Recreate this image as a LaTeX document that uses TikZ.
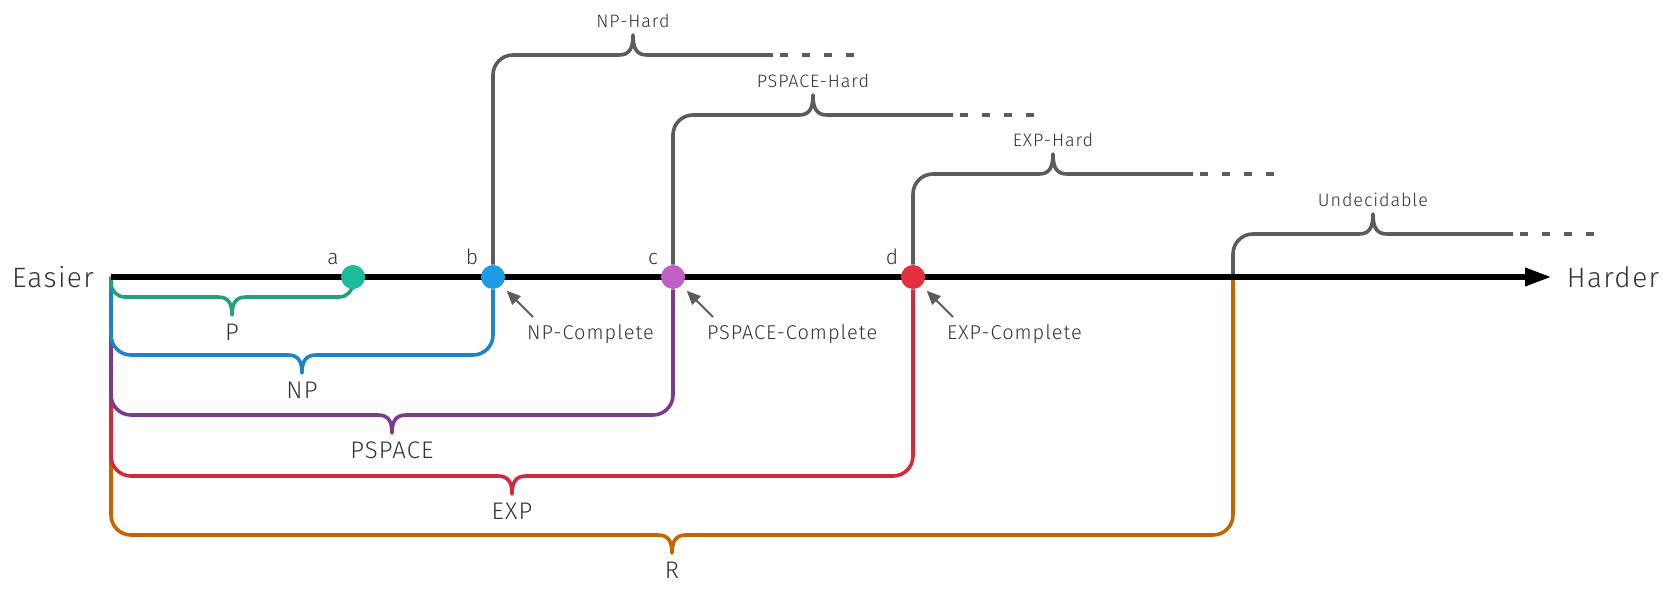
\documentclass[tikz,border=0pt]{standalone}
\usepackage{fontspec}
\setmainfont{Fira Sans}[UprightFont=* Light, LetterSpace=5]
\usetikzlibrary{arrows.meta, calc, positioning}
\pgfdeclarelayer{bg}
\pgfsetlayers{bg,main}
\definecolor{txtgray}{HTML}{333333}
\definecolor{hardgray}{HTML}{5C5C5C}
\definecolor{pdot}{HTML}{1ABC9C}
\definecolor{pline}{HTML}{22A080}
\definecolor{npdot}{HTML}{1E9BE2}
\definecolor{npline}{HTML}{1D84C6}
\definecolor{psdot}{HTML}{C15FC7}
\definecolor{psline}{HTML}{7D3B8C}
\definecolor{expdot}{HTML}{E2303E}
\definecolor{expline}{HTML}{D12B3B}
\definecolor{rline}{HTML}{C46500}

\begin{document}
\begin{tikzpicture}[x=0.5pt, y=-0.5pt,
    dot/.style={circle, fill=#1, minimum size=12pt, inner sep=0pt},
    ptlbl/.style={font=\fontsize{10.5}{12}\selectfont, text=txtgray, anchor=base},
    side/.style={font=\fontsize{14}{16}\selectfont, text=txtgray, anchor=base},
    cls/.style={draw=#1, line width=1.8pt, rounded corners=10pt, line join=round},
    cusp/.style={draw=#1, line width=1.8pt, line join=round},
    clslbl/.style={font=\fontsize{12}{14}\selectfont, text=txtgray, anchor=base},
    hard/.style={draw=hardgray, line width=1.8pt, rounded corners=10pt, line join=round},
    harddash/.style={draw=hardgray, line width=1.8pt, dash pattern=on 4pt off 7pt},
    hardlbl/.style={font=\fontsize{9}{10}\selectfont, text=txtgray, anchor=base},
    cpl/.style={draw=hardgray, line width=1pt, -{Triangle[length=7pt,width=6pt]}, shorten >=3.5pt},
    cpllbl/.style={font=\fontsize{10}{12}\selectfont, text=txtgray, anchor=base west}]

\useasboundingbox (0,0) rectangle (1676,592);

% axis ends
\coordinate (o) at (111,277);
\coordinate (tip) at (1552,277);
\coordinate (u) at (1233,277);

\node[side] (easier) at (53,288) {Easier};
\node[side] (harder) at (1613,288) {Harder};

% points on the axis
\node[dot=pdot] (a) at (353,277) {};
\node[dot=npdot] (b) at (493,277) {};
\node[dot=psdot] (c) at (673,277) {};
\node[dot=expdot] (d) at (913,277) {};
\node[ptlbl] (la) at (333,265) {a};
\node[ptlbl] (lb) at (472,265) {b};
\node[ptlbl] (lc) at (653,265) {c};
\node[ptlbl] (ld) at (892,265) {d};

\begin{pgfonlayer}{bg}
% classes below the axis
\draw[cls=rline] (o) |- (658,535);
\draw[cusp=rline] (658,535) .. controls (668,535) and (672,541) .. (672,553)
    .. controls (672,541) and (676,535) .. (686,535);
\draw[cls=rline] (686,535) -| (u);
\draw[cls=expline] (o) |- (498,476);
\draw[cusp=expline] (498,476) .. controls (508,476) and (512,482) .. (512,494)
    .. controls (512,482) and (516,476) .. (526,476);
\draw[cls=expline] (526,476) -| (d);
\draw[cls=psline] (o) |- (378,415);
\draw[cusp=psline] (378,415) .. controls (388,415) and (392,421) .. (392,433)
    .. controls (392,421) and (396,415) .. (406,415);
\draw[cls=psline] (406,415) -| (c);
\draw[cls=npline] (o) |- (288,355);
\draw[cusp=npline] (288,355) .. controls (298,355) and (302,361) .. (302,373)
    .. controls (302,361) and (306,355) .. (316,355);
\draw[cls=npline] (316,355) -| (b);
\draw[cls=pline, rounded corners=7pt] (o) |- (218,297);
\draw[cusp=pline] (218,297) .. controls (228,297) and (232,303) .. (232,315)
    .. controls (232,303) and (236,297) .. (246,297);
\draw[cls=pline, rounded corners=7pt] (246,297) -| (a);

% hard classes above the axis
\draw[hard] (b) |- (619,55);
\draw[cusp=hardgray] (619,55) .. controls (629,55) and (633,49) .. (633,35)
    .. controls (633,49) and (637,55) .. (647,55) -- (773,55);
\draw[harddash] (780,55) -- (854,55);
\draw[hard] (c) |- (799,115);
\draw[cusp=hardgray] (799,115) .. controls (809,115) and (813,109) .. (813,95)
    .. controls (813,109) and (817,115) .. (827,115) -- (953,115);
\draw[harddash] (960,115) -- (1034,115);
\draw[hard] (d) |- (1039,174);
\draw[cusp=hardgray] (1039,174) .. controls (1049,174) and (1053,168) .. (1053,154)
    .. controls (1053,168) and (1057,174) .. (1067,174) -- (1193,174);
\draw[harddash] (1200,174) -- (1274,174);
\draw[hard] (u) |- (1359,234);
\draw[cusp=hardgray] (1359,234) .. controls (1369,234) and (1373,228) .. (1373,214)
    .. controls (1373,228) and (1377,234) .. (1387,234) -- (1513,234);
\draw[harddash] (1520,234) -- (1594,234);

\draw[line width=3.2pt, -{Triangle[length=13.5pt,width=8.5pt]}] (o) -- (tip);
\end{pgfonlayer}

\node[clslbl] (lp) at (232,341) {P};
\node[clslbl] (lnp) at (302,399) {NP};
\node[clslbl] (lps) at (392,459) {PSPACE};
\node[clslbl] (lexp) at (512,520) {EXP};
\node[clslbl] (lr) at (672,579) {R};

\node[hardlbl] (nph) at (633,28) {NP-Hard};
\node[hardlbl] (psh) at (813,88) {PSPACE-Hard};
\node[hardlbl] (exph) at (1053,147) {EXP-Hard};
\node[hardlbl] (und) at (1373,207) {Undecidable};

% complete problems
\coordinate (npt) at (533,317);
\coordinate (pst) at (713,317);
\coordinate (expt) at (953,317);
\draw[cpl] (npt) -- (b);
\draw[cpl] (pst) -- (c);
\draw[cpl] (expt) -- (d);
\node[cpllbl] (npc) at (520,340) {NP-Complete};
\node[cpllbl] (psc) at (700,340) {PSPACE-Complete};
\node[cpllbl] (expc) at (940,340) {EXP-Complete};
\end{tikzpicture}
\end{document}
